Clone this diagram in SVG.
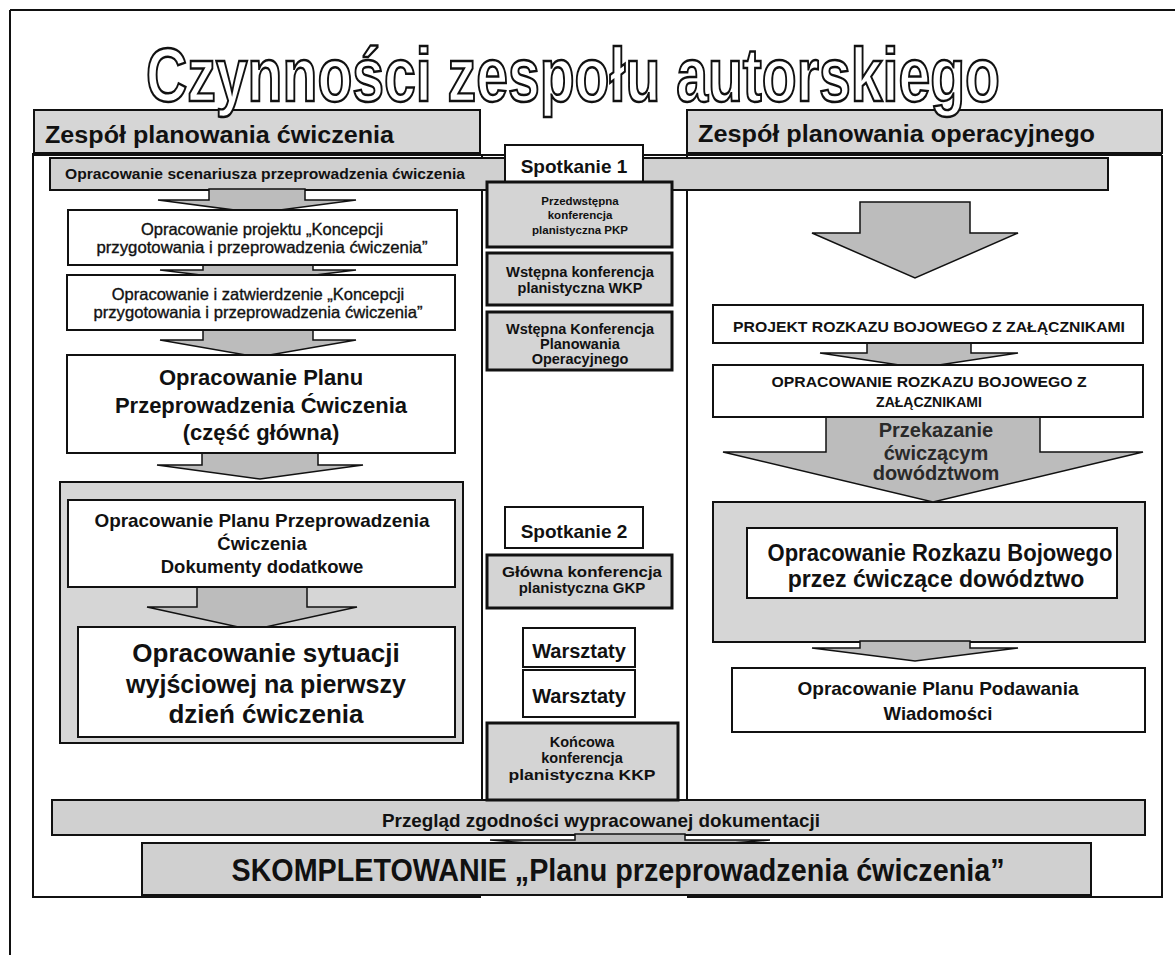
<svg xmlns="http://www.w3.org/2000/svg" width="1175" height="955" viewBox="0 0 1175 955">
<style>
text{font-family:"Liberation Sans",Arial,sans-serif;font-weight:bold;fill:#111;}
.c{text-anchor:middle;}
.reg{font-weight:normal;stroke:#111;stroke-width:0.35;}
.line{stroke:#111;stroke-width:2;fill:none;}
.gray{fill:#d6d6d6;stroke:#111;stroke-width:2;}
.band{fill:#d0d0d0;stroke:#111;stroke-width:2;}
.white{fill:#fff;stroke:#111;stroke-width:2;}
.cbox{fill:#d4d4d4;stroke:#111;stroke-width:3;}
.arrow{fill:#bcbcbc;stroke:#111;stroke-width:1.5;stroke-linejoin:miter;}
.title{font-size:76px;fill:#fff;stroke:#111;stroke-width:2.2;font-weight:bold;text-anchor:middle;}
</style>
<rect width="1175" height="955" fill="#fff"/>
<g id="page-frame">
<line class="line" x1="10" y1="10" x2="1175" y2="10"/>
<line class="line" x1="10" y1="10" x2="10" y2="955"/>
</g>
<g id="main-frame">
<line class="line" x1="33" y1="155" x2="1162" y2="155"/>
<line class="line" x1="33" y1="153" x2="33" y2="898"/>
<line class="line" x1="1162" y1="155" x2="1162" y2="898"/>
<line class="line" x1="33" y1="897" x2="481" y2="897"/>
<line class="line" x1="687" y1="897" x2="1162" y2="897"/>
<line class="line" x1="482" y1="155" x2="482" y2="800" stroke-width="1.5"/>
<line class="line" x1="687" y1="155" x2="687" y2="800"/>
</g>
<g id="header-left">
<rect class="gray" x="34" y="110" width="446" height="43"/>
<text x="45" y="143" font-size="23" textLength="349" lengthAdjust="spacingAndGlyphs">Zespół planowania ćwiczenia</text>
</g>
<g id="header-right">
<rect class="gray" x="687" y="110" width="475" height="43"/>
<text x="698" y="142" font-size="23.5" textLength="397" lengthAdjust="spacingAndGlyphs">Zespół planowania operacyjnego</text>
</g>
<g id="title" transform="translate(573 101) scale(0.752 1)">
<text class="title" x="0" y="0" vector-effect="non-scaling-stroke">Czynności zespołu autorskiego</text>
</g>
<g id="band-scenariusz">
<rect class="band" x="50" y="158" width="1058" height="32"/>
<text x="65" y="179" font-size="15" textLength="400" lengthAdjust="spacingAndGlyphs">Opracowanie scenariusza przeprowadzenia ćwiczenia</text>
</g>
<g id="group-left">
<rect class="gray" x="60" y="482" width="403" height="261" stroke-width="1.5"/>
</g>
<g id="group-right">
<rect class="gray" x="713" y="502" width="432" height="140" stroke-width="1.5"/>
</g>
<g id="band-przeglad">
<rect class="band" x="52" y="800" width="1093" height="35"/>
<text class="c" x="601" y="827" font-size="19" textLength="438" lengthAdjust="spacingAndGlyphs">Przegląd zgodności wypracowanej dokumentacji</text>
</g>
<g id="connectors">
<polygon class="arrow" points="209,189 305,189 305,200 356,200 257,213 158,200 209,200"/>
<polygon class="arrow" points="203,264 313,264 313,270 356,270 258,282 160,270 203,270"/>
<polygon class="arrow" points="203,329 313,329 313,340 356,340 258,357 160,340 203,340"/>
<polygon class="arrow" points="202,452 318,452 318,465 363,465 260,479 157,465 202,465"/>
<polygon class="arrow" points="197,586 307,586 307,607 357,607 252,630 147,607 197,607"/>
<polygon class="arrow" points="860,202 970,202 970,233 1018,233 915,278 812,233 860,233"/>
<polygon class="arrow" points="867,342 971,342 971,353 1018,353 919,368 820,353 867,353"/>
<polygon class="arrow" points="826,416 1040,416 1040,452 1143,452 933,502 723,452 826,452"/>
<polygon class="arrow" points="860,641 970,641 970,648 1018,648 915,661 812,648 860,648"/>
<polygon class="arrow" points="575,834 685,834 685,840 770,840 630,851 490,840 575,840"/>
</g>
<g id="label-przekazanie">
<text class="c" x="936" y="437" font-size="20" style="fill:#2a2a2a">Przekazanie</text>
<text class="c" x="936" y="460" font-size="20" style="fill:#2a2a2a">ćwiczącym</text>
<text class="c" x="936" y="480" font-size="20" style="fill:#2a2a2a">dowództwom</text>
</g>
<g id="band-skompletowanie">
<rect class="band" x="142" y="843" width="949" height="52"/>
<text class="c" x="618" y="881" font-size="31" textLength="773" lengthAdjust="spacingAndGlyphs">SKOMPLETOWANIE „Planu przeprowadzenia ćwiczenia”</text>
</g>
<g id="box-koncepcja-projekt">
<rect class="white" x="68" y="210" width="389" height="55"/>
<text class="c reg" x="262" y="235" font-size="16.5">Opracowanie projektu „Koncepcji</text>
<text class="c reg" x="262" y="253" font-size="16.5" textLength="331" lengthAdjust="spacingAndGlyphs">przygotowania i przeprowadzenia ćwiczenia”</text>
</g>
<g id="box-koncepcja-zatw">
<rect class="white" x="67" y="275" width="388" height="55"/>
<text class="c reg" x="258" y="300" font-size="16.5">Opracowanie i zatwierdzenie „Koncepcji</text>
<text class="c reg" x="258" y="318" font-size="16.5" textLength="329" lengthAdjust="spacingAndGlyphs">przygotowania i przeprowadzenia ćwiczenia”</text>
</g>
<g id="box-plan-glowny">
<rect class="white" x="67" y="355" width="388" height="98"/>
<text class="c" x="261" y="385" font-size="22">Opracowanie Planu</text>
<text class="c" x="261" y="413" font-size="22">Przeprowadzenia Ćwiczenia</text>
<text class="c" x="261" y="440" font-size="22">(część główna)</text>
</g>
<g id="box-plan-dodatkowe">
<rect class="white" x="68" y="500" width="387" height="87"/>
<text class="c" x="262" y="527" font-size="18.5" textLength="335" lengthAdjust="spacingAndGlyphs">Opracowanie Planu Przeprowadzenia</text>
<text class="c" x="262" y="550" font-size="18.5">Ćwiczenia</text>
<text class="c" x="262" y="573" font-size="18.5">Dokumenty dodatkowe</text>
</g>
<g id="box-sytuacja">
<rect class="white" x="78" y="627" width="377" height="110"/>
<text class="c" x="266" y="662" font-size="26">Opracowanie sytuacji</text>
<text class="c" x="266" y="693" font-size="26" textLength="280" lengthAdjust="spacingAndGlyphs">wyjściowej na pierwszy</text>
<text class="c" x="266" y="723" font-size="26">dzień ćwiczenia</text>
</g>
<g id="box-spotkanie1">
<rect class="white" x="505" y="145" width="138" height="37" stroke-width="2.5"/>
<text class="c" x="574" y="173" font-size="19">Spotkanie 1</text>
</g>
<g id="box-pkp">
<rect class="cbox" x="487" y="182" width="185" height="65"/>
<text class="c" x="580" y="205" font-size="11.5">Przedwstępna</text>
<text class="c" x="580" y="219" font-size="11.5">konferencja</text>
<text class="c" x="580" y="234" font-size="11.5">planistyczna PKP</text>
</g>
<g id="box-wkp">
<rect class="cbox" x="487" y="253" width="185" height="52"/>
<text class="c" x="580" y="277" font-size="14.5" textLength="148" lengthAdjust="spacingAndGlyphs">Wstępna konferencja</text>
<text class="c" x="580" y="293" font-size="14.5">planistyczna WKP</text>
</g>
<g id="box-wkpo">
<rect class="cbox" x="487" y="312" width="185" height="58"/>
<text class="c" x="580" y="334" font-size="14.5" textLength="148" lengthAdjust="spacingAndGlyphs">Wstępna Konferencja</text>
<text class="c" x="580" y="349" font-size="14.5">Planowania</text>
<text class="c" x="580" y="364" font-size="14.5">Operacyjnego</text>
</g>
<g id="box-spotkanie2">
<rect class="white" x="505" y="507" width="138" height="41" stroke-width="2.5"/>
<text class="c" x="574" y="538" font-size="19">Spotkanie 2</text>
</g>
<g id="box-gkp">
<rect class="cbox" x="487" y="555" width="185" height="53"/>
<text class="c" x="582" y="577" font-size="15" textLength="160" lengthAdjust="spacingAndGlyphs">Główna konferencja</text>
<text class="c" x="582" y="593" font-size="15">planistyczna GKP</text>
</g>
<g id="box-warsztaty1">
<rect class="white" x="523" y="628" width="112" height="39" stroke-width="2.5"/>
<text class="c" x="579" y="658" font-size="20">Warsztaty</text>
</g>
<g id="box-warsztaty2">
<rect class="white" x="523" y="670" width="112" height="47" stroke-width="2.5"/>
<text class="c" x="579" y="703" font-size="20">Warsztaty</text>
</g>
<g id="box-kkp">
<rect class="cbox" x="487" y="723" width="191" height="77"/>
<text class="c" x="582" y="747" font-size="14.5">Końcowa</text>
<text class="c" x="582" y="763" font-size="14.5">konferencja</text>
<text class="c" x="582" y="780" font-size="14.5" textLength="147" lengthAdjust="spacingAndGlyphs">planistyczna KKP</text>
</g>
<g id="box-projekt-rozkazu">
<rect class="white" x="713" y="305" width="430" height="38"/>
<text class="c" x="929" y="332" font-size="14" textLength="392" lengthAdjust="spacingAndGlyphs">PROJEKT ROZKAZU BOJOWEGO Z ZAŁĄCZNIKAMI</text>
</g>
<g id="box-opracowanie-rozkazu">
<rect class="white" x="713" y="365" width="430" height="52"/>
<text class="c" x="929" y="387" font-size="14" textLength="315" lengthAdjust="spacingAndGlyphs">OPRACOWANIE ROZKAZU BOJOWEGO Z</text>
<text class="c" x="929" y="407" font-size="14">ZAŁĄCZNIKAMI</text>
</g>
<g id="box-rozkaz-cwiczace">
<rect class="white" x="747" y="528" width="370" height="70" stroke-width="2.5"/>
<text class="c" x="940" y="561" font-size="23" textLength="345" lengthAdjust="spacingAndGlyphs">Opracowanie Rozkazu Bojowego</text>
<text class="c" x="936" y="587" font-size="23">przez ćwiczące dowództwo</text>
</g>
<g id="box-plan-wiadomosci">
<rect class="white" x="732" y="668" width="413" height="64"/>
<text class="c" x="938" y="695" font-size="18.5" textLength="281" lengthAdjust="spacingAndGlyphs">Opracowanie Planu Podawania</text>
<text class="c" x="938" y="720" font-size="18.5">Wiadomości</text>
</g>
</svg>
